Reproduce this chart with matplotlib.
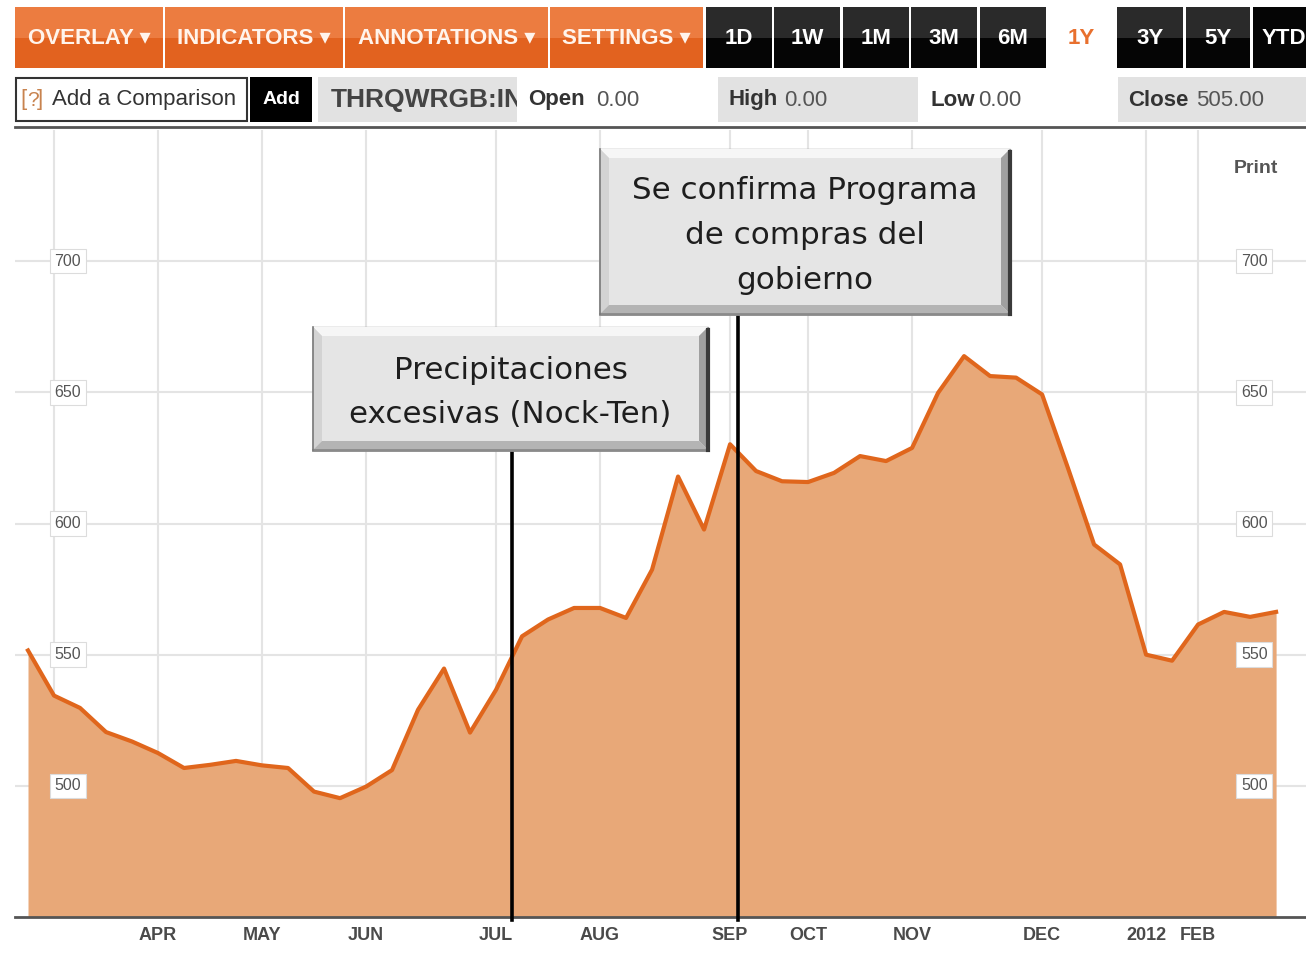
import matplotlib.pyplot as plt
import numpy as np
from matplotlib.patches import Rectangle, Polygon

# weekly price, Mar 2011 - Mar 2012 (x = week number)
week = np.arange(49)
close = [551.6, 534.4, 529.7, 520.5, 516.9, 512.5, 506.8, 508.0, 509.5, 507.8,
         506.8, 497.8, 495.3, 499.7, 506.0, 529.0, 544.7, 520.3, 536.6, 557.0,
         563.4, 567.8, 567.8, 564.0, 582.4, 617.9, 597.7, 630.2, 620.0, 616.1,
         615.8, 619.3, 625.7, 623.8, 628.8, 649.8, 663.8, 656.2, 655.6, 649.2,
         621.0, 592.0, 584.4, 550.0, 547.7, 561.5, 566.3, 564.4, 566.3]
month_pos = [1, 5, 9, 13, 18, 22, 27, 30, 34, 39, 43, 45]
month_lbl = ['', 'APR', 'MAY', 'JUN', 'JUL', 'AUG', 'SEP', 'OCT', 'NOV', 'DEC', '2012', 'FEB']
price_ticks = [500, 550, 600, 650, 700]

events = [18.6, 27.3]
event_top = [627, 678.6]
event_txt = ['Precipitaciones\nexcesivas (Nock-Ten)',
             'Se confirma Programa\nde compras del\ngobierno']

W, H = 1306, 957
ui_font = ['Liberation Sans', 'DejaVu Sans']

fig = plt.figure(figsize=(W / 100, H / 100), dpi=100)

# ---- chart ----
ax = fig.add_axes([15 / W, 40 / H, 1291 / W, 787 / H])
ax.set_xlim(-0.5, 49.15)
ax.set_ylim(450, 750)

ax.fill_between(week, close, 450, color='#E8A878', lw=0, zorder=2)
ax.plot(week, close, color='#E0661C', lw=3, zorder=3, solid_joinstyle='round')

ax.set_xticks(month_pos)
ax.set_xticklabels(month_lbl, fontweight='bold', fontsize=13, color='#4a4a4a',
                   family=ui_font)
ax.set_yticks(price_ticks)
ax.tick_params(length=0, pad=7, labelleft=False)
ax.grid(color='#e4e4e4', lw=1.5, zorder=0)
ax.set_axisbelow(True)
for s in ['top', 'left', 'right']:
    ax.spines[s].set_visible(False)
ax.spines['bottom'].set_color('#555555')
ax.spines['bottom'].set_linewidth(2)

for v in price_ticks:
    for xa in [0.041, 0.96]:
        ax.text(xa, v, str(v), transform=ax.get_yaxis_transform(), ha='center',
                va='center', fontsize=11.5, color='#555555', family=ui_font, zorder=4,
                bbox=dict(boxstyle='square,pad=0.3', fc='white', ec='#dcdcdc', lw=0.8))

ax.text(0.961, 0.951, 'Print', transform=ax.transAxes, ha='center', va='center',
        fontsize=14, fontweight='bold', color='#555555', family=ui_font)

for ev, top in zip(events, event_top):
    ax.plot([ev, ev], [448.8, top], color='black', lw=2.6, zorder=5, clip_on=False)

# ---- page chrome in pixel coords ----
ui = fig.add_axes([0, 0, 1, 1])
ui.set_xlim(0, W)
ui.set_ylim(H, 0)
ui.axis('off')
ui.patch.set_visible(False)


def button(x0, x1, y0, y1, c_top, c_bot, label, tcolor='white', z=2):
    mid = (y0 + y1) / 2
    ui.add_patch(Rectangle((x0, y0), x1 - x0, mid - y0, fc=c_top, ec='none', zorder=z))
    ui.add_patch(Rectangle((x0, mid), x1 - x0, y1 - mid, fc=c_bot, ec='none', zorder=z))
    ui.text((x0 + x1) / 2, mid + 1, label, ha='center', va='center', fontsize=16,
            fontweight='bold', color=tcolor, family=ui_font, zorder=z + 1)


tabs = [(15, 163, 'OVERLAY ▾'), (165, 343, 'INDICATORS ▾'),
        (345, 548, 'ANNOTATIONS ▾'), (550, 703, 'SETTINGS ▾')]
for x0, x1, lab in tabs:
    button(x0, x1, 7, 68, '#EC7C40', '#E2621F', lab, tcolor='#fff4ec')

blacks = [(706, 772, '1D'), (774, 840, '1W'), (843, 909, '1M'), (911, 977, '3M'),
          (980, 1046, '6M'), (1117, 1183, '3Y'), (1186, 1250, '5Y')]
for x0, x1, lab in blacks:
    button(x0, x1, 7, 68, '#2a2a2a', '#050505', lab)
ui.add_patch(Rectangle((1253, 7), 60, 61, fc='#050505', ec='none', zorder=2))
ui.text(1262, 39, 'YTD', ha='left', va='center', fontsize=16, fontweight='bold',
        color='white', family=ui_font, zorder=3)
ui.text(1081, 39, '1Y', ha='center', va='center', fontsize=16, fontweight='bold',
        color='#E8702E', family=ui_font)

# second row
ui.add_patch(Rectangle((16, 78), 231, 43, fc='white', ec='#333333', lw=1.5))
ui.text(20, 100, '[', ha='left', va='center', fontsize=16, color='#c8834f', family=ui_font)
ui.text(27, 100, '?', ha='left', va='center', fontsize=15, color='#c8834f', family=ui_font)
ui.text(37, 100, ']', ha='left', va='center', fontsize=16, color='#c8834f', family=ui_font)
ui.text(52, 100, 'Add a Comparison', ha='left', va='center', fontsize=16,
        color='#333333', family=ui_font)
ui.add_patch(Rectangle((250, 77), 62, 45, fc='black', ec='none'))
ui.text(281, 100, 'Add', ha='center', va='center', fontsize=14, fontweight='bold',
        color='white', family=ui_font)

for x0, x1 in [(318, 517), (718, 918), (1118, 1306)]:
    ui.add_patch(Rectangle((x0, 77), x1 - x0, 45, fc='#e2e2e2', ec='none', zorder=1))
ui.text(331, 100, 'THRQWRGB:IN', ha='left', va='center', fontsize=19,
        fontweight='bold', color='#444444', family=ui_font, zorder=2)
ui.add_patch(Rectangle((517, 75), 9, 49, fc='white', ec='none', zorder=3))

pairs = [(528, 596, 'Open', '0.00'), (728, 784, 'High', '0.00'),
         (930, 978, 'Low', '0.00'), (1128, 1196, 'Close', '505.00')]
for xa, xb, a, b in pairs:
    ui.text(xa, 100, a, ha='left', va='center', fontsize=16, fontweight='bold',
            color='#333333', family=ui_font, zorder=4)
    ui.text(xb, 100, b, ha='left', va='center', fontsize=16, color='#555555',
            family=ui_font, zorder=4)

ui.plot([15, W], [127, 127], color='#555555', lw=2)


def bevel_box(x0, y0, x1, y1, text, b=9):
    ui.add_patch(Rectangle((x0, y0), x1 - x0, y1 - y0, fc='#e5e5e5', ec='#9a9a9a',
                           lw=1, zorder=6))
    top = [(x0, y0), (x1, y0), (x1 - b, y0 + b), (x0 + b, y0 + b)]
    left = [(x0, y0), (x0 + b, y0 + b), (x0 + b, y1 - b), (x0, y1)]
    right = [(x1, y0), (x1, y1), (x1 - b, y1 - b), (x1 - b, y0 + b)]
    bottom = [(x0, y1), (x0 + b, y1 - b), (x1 - b, y1 - b), (x1, y1)]
    for pts, c in [(top, '#f6f6f6'), (left, '#d3d3d3'), (right, '#a0a0a0'),
                   (bottom, '#b4b4b4')]:
        ui.add_patch(Polygon(pts, closed=True, fc=c, ec='none', zorder=7))
    ui.plot([x0, x1], [y1, y1], color='#8a8a8a', lw=2, zorder=8)
    ui.plot([x1, x1], [y0 + 3, y1], color='#3a3a3a', lw=3, zorder=8)
    ui.plot([x0, x0], [y0, y1], color='#7a7a7a', lw=1.2, zorder=8)
    ui.text((x0 + x1) / 2, (y0 + y1) / 2 + 4, text, ha='center', va='center',
            fontsize=22.3, color='#1e1e1e', family=['DejaVu Sans'],
            linespacing=1.68, zorder=9)


bevel_box(313, 327, 708, 450, event_txt[0])
bevel_box(600, 149, 1010, 314, event_txt[1])

fig.savefig('out.png', dpi=100)
